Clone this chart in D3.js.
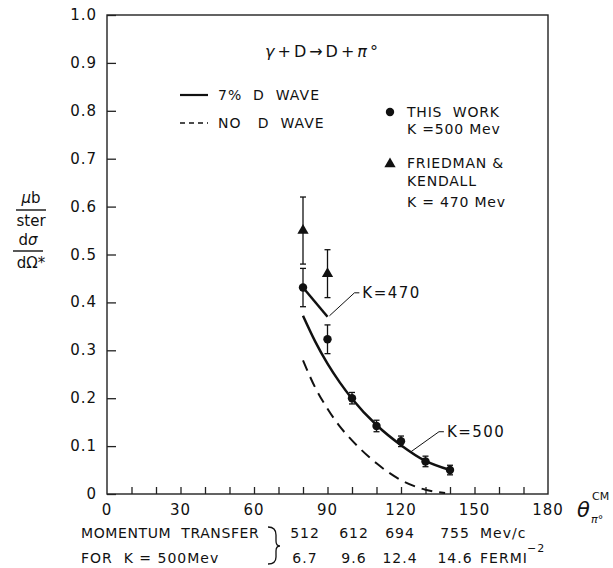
<!DOCTYPE html>
<html>
<head>
<meta charset="utf-8">
<script src="https://cdn.jsdelivr.net/npm/d3@7"></script>
<style>
  body { margin: 0; background: #fff; }
  text { font-family: "DejaVu Sans", sans-serif; fill: #111; white-space: pre; }
</style>
</head>
<body>
<script>

// measured points, this work (K = 500 Mev)
var thetaWork = [80, 90, 100, 110, 120, 130, 140],
    sigmaWork = [0.431, 0.323, 0.200, 0.142, 0.110, 0.068, 0.050],
    errWork   = [0.040, 0.030, 0.012, 0.012, 0.011, 0.011, 0.010];

// Friedman & Kendall (K = 470 Mev)
var thetaFK = [80, 90],
    sigmaFK = [0.55, 0.46],
    errFK   = [0.07, 0.05];

// theory curves
var thetaD = [80, 85, 90, 95, 100, 110, 120, 130, 140],
    sigmaD = [0.372, 0.318, 0.272, 0.233, 0.199, 0.144, 0.102, 0.069, 0.050];

var theta470 = [80, 90],
    sigma470 = [0.431, 0.370];

var thetaNoD = [80, 85, 90, 95, 100, 110, 120, 130, 138],
    sigmaNoD = [0.279, 0.222, 0.178, 0.141, 0.112, 0.064, 0.029, 0.009, 0.002];

var xTicks = [0, 30, 60, 90, 120, 150, 180],
    yTicks = [0, 0.1, 0.2, 0.3, 0.4, 0.5, 0.6, 0.7, 0.8, 0.9, 1.0],
    yTickLabels = ["0", "0.1", "0.2", "0.3", "0.4", "0.5", "0.6", "0.7", "0.8", "0.9", "1.0"];

var momentum = ["512", "612", "694", "755"],
    fermi    = ["6.7", "9.6", "12.4", "14.6"];


var svg = d3.select("body").append("svg")
        .attr("width", 613)
        .attr("height", 568),

    x = d3.scaleLinear().domain([0, 180]).range([107, 548]),
    y = d3.scaleLinear().domain([0, 1]).range([494, 15]);


// frame
svg.append("rect")
    .attr("x", x(0)).attr("y", y(1))
    .attr("width", x(180) - x(0)).attr("height", y(0) - y(1))
    .attr("fill", "none").attr("stroke", "#222").attr("stroke-width", 1.4);

// y ticks, pointing inside
svg.append("g")
    .attr("transform", "translate(" + x(0) + ",0)")
    .call(d3.axisRight(y).tickValues(yTicks).tickSize(9).tickFormat(""))
    .call(function(g) { g.select(".domain").remove(); })
    .selectAll("line").attr("stroke", "#222").attr("stroke-width", 1.3);

svg.append("g").selectAll("text")
    .data(yTicks)
    .enter().append("text")
        .attr("x", 97)
        .attr("y", function(d) { return y(d) + 5; })
        .attr("text-anchor", "end")
        .attr("font-size", 15)
        .attr("letter-spacing", 1)
        .text(function(d, i) { return yTickLabels[i]; });

// x ticks every 10 deg, pointing up
svg.append("g")
    .attr("transform", "translate(0," + y(0) + ")")
    .call(d3.axisTop(x).tickValues(d3.range(10, 180, 10)).tickSize(7).tickFormat(""))
    .call(function(g) { g.select(".domain").remove(); })
    .selectAll("line").attr("stroke", "#222").attr("stroke-width", 1.3);

svg.append("g").selectAll("text")
    .data(xTicks)
    .enter().append("text")
        .attr("x", function(d) { return x(d); })
        .attr("y", 515)
        .attr("text-anchor", "middle")
        .attr("font-size", 15)
        .attr("letter-spacing", 1)
        .text(function(d) { return d; });


// curves
var line = d3.line()
    .x(function(d) { return x(d[0]); })
    .y(function(d) { return y(d[1]); })
    .curve(d3.curveMonotoneX);

svg.append("path")
    .attr("d", line(d3.zip(thetaD, sigmaD)))
    .attr("fill", "none").attr("stroke", "#111").attr("stroke-width", 2.5);

svg.append("path")
    .attr("d", d3.line().x(function(d) { return x(d[0]); }).y(function(d) { return y(d[1]); })(d3.zip(theta470, sigma470)))
    .attr("fill", "none").attr("stroke", "#111").attr("stroke-width", 2.5);

svg.append("path")
    .attr("d", line(d3.zip(thetaNoD, sigmaNoD)))
    .attr("fill", "none").attr("stroke", "#111").attr("stroke-width", 2)
    .attr("stroke-dasharray", "11,7");


// error bars
function errorBars(th, sg, er) {
    var g = svg.append("g").attr("stroke", "#111").attr("stroke-width", 1.3);
    th.forEach(function(t, i) {
        var cx = x(t), top = y(sg[i] + er[i]), bot = y(sg[i] - er[i]);
        g.append("line").attr("x1", cx).attr("x2", cx).attr("y1", top).attr("y2", bot);
        g.append("line").attr("x1", cx - 3).attr("x2", cx + 3).attr("y1", top).attr("y2", top);
        g.append("line").attr("x1", cx - 3).attr("x2", cx + 3).attr("y1", bot).attr("y2", bot);
    });
}
errorBars(thetaWork, sigmaWork, errWork);
errorBars(thetaFK, sigmaFK, errFK);

svg.append("g").selectAll("circle")
    .data(d3.zip(thetaWork, sigmaWork))
    .enter().append("circle")
        .attr("cx", function(d) { return x(d[0]); })
        .attr("cy", function(d) { return y(d[1]); })
        .attr("r", 4.2)
        .attr("fill", "#111");

var tri = d3.symbol().type(d3.symbolTriangle).size(55);
svg.append("g").selectAll("path")
    .data(d3.zip(thetaFK, sigmaFK))
    .enter().append("path")
        .attr("d", tri)
        .attr("transform", function(d) { return "translate(" + x(d[0]) + "," + y(d[1]) + ")"; })
        .attr("fill", "#111");


// curve labels with leaders
function leader(pts, label) {
    svg.append("path")
        .attr("d", d3.line().x(function(d) { return x(d[0]); }).y(function(d) { return y(d[1]); })(pts))
        .attr("fill", "none").attr("stroke", "#111").attr("stroke-width", 1);
    var last = pts[pts.length - 1];
    svg.append("text")
        .attr("x", x(last[0]) + 3)
        .attr("y", y(last[1]) + 5)
        .attr("font-size", 15)
        .attr("letter-spacing", 1.5)
        .text(label);
}
leader([[90.8, 0.372], [101, 0.42], [103, 0.42]], "K=470");
leader([[124, 0.088], [135.5, 0.13], [137.5, 0.13]], "K=500");


// reaction title
svg.append("text")
    .attr("x", 265).attr("y", 57)
    .attr("font-size", 16)
    .attr("letter-spacing", 3)
    .html('<tspan font-style="italic">γ</tspan>+D→D+<tspan font-style="italic">π</tspan>°');

// line legend
var legend = svg.append("g").attr("font-size", 14).attr("letter-spacing", 1);
legend.append("line").attr("x1", 180).attr("x2", 208).attr("y1", 95).attr("y2", 95)
    .attr("stroke", "#111").attr("stroke-width", 2.2);
legend.append("text").attr("x", 218).attr("y", 100).text("7%  D  WAVE");
legend.append("line").attr("x1", 180).attr("x2", 208).attr("y1", 123).attr("y2", 123)
    .attr("stroke", "#111").attr("stroke-width", 1.4).attr("stroke-dasharray", "5,4");
legend.append("text").attr("x", 218).attr("y", 128).text("NO   D  WAVE");

// marker legend
var mleg = svg.append("g").attr("font-size", 14).attr("letter-spacing", 0.8);
mleg.append("circle").attr("cx", 390).attr("cy", 112).attr("r", 4.2).attr("fill", "#111");
mleg.append("text").attr("x", 407).attr("y", 117).text("THIS  WORK");
mleg.append("text").attr("x", 407).attr("y", 134).text("K =500 Mev");
mleg.append("path").attr("d", tri).attr("transform", "translate(390,164)").attr("fill", "#111");
mleg.append("text").attr("x", 407).attr("y", 168).text("FRIEDMAN &");
mleg.append("text").attr("x", 407).attr("y", 186).text("KENDALL");
mleg.append("text").attr("x", 407).attr("y", 207).text("K = 470 Mev");


// y axis label
var ylab = svg.append("g").attr("font-size", 15).attr("text-anchor", "middle");
ylab.append("text").attr("x", 31).attr("y", 203).html('<tspan font-style="italic">μ</tspan>b');
ylab.append("line").attr("x1", 16).attr("x2", 46).attr("y1", 210).attr("y2", 210).attr("stroke", "#111").attr("stroke-width", 1.4);
ylab.append("text").attr("x", 31).attr("y", 226).text("ster");
ylab.append("text").attr("x", 28).attr("y", 245).html('d<tspan font-style="italic">σ</tspan>');
ylab.append("line").attr("x1", 13).attr("x2", 43).attr("y1", 251).attr("y2", 251).attr("stroke", "#111").attr("stroke-width", 1.4);
ylab.append("text").attr("x", 31).attr("y", 268).text("dΩ*");

// x axis label
svg.append("text").attr("x", 577).attr("y", 517).attr("font-size", 21).attr("font-style", "italic").text("θ");
svg.append("text").attr("x", 592).attr("y", 500).attr("font-size", 11).text("CM");
svg.append("text").attr("x", 591).attr("y", 523).attr("font-size", 11).html('<tspan font-style="italic">π</tspan>°');


// momentum transfer table
var tbl = svg.append("g").attr("font-size", 14).attr("letter-spacing", 1),
    cols = d3.scaleOrdinal().domain(momentum.map(function(d, i) { return i; })).range([305, 354, 400, 455]);

tbl.append("text").attr("x", 81).attr("y", 538).attr("letter-spacing", 0.6).text("MOMENTUM  TRANSFER");
tbl.append("text").attr("x", 81).attr("y", 563).text("FOR  K = 500Mev");
tbl.append("path")
    .attr("d", "M268,527 Q276,527 276,535 L276,541 Q276,546 280,546 Q276,546 276,551 L276,557 Q276,564 268,564")
    .attr("fill", "none").attr("stroke", "#111").attr("stroke-width", 1.3);

tbl.selectAll(".mom").data(momentum).enter().append("text")
    .attr("x", function(d, i) { return cols(i); }).attr("y", 538)
    .attr("text-anchor", "middle").text(function(d) { return d; });
tbl.selectAll(".fer").data(fermi).enter().append("text")
    .attr("x", function(d, i) { return cols(i); }).attr("y", 563)
    .attr("text-anchor", "middle").text(function(d) { return d; });

tbl.append("text").attr("x", 480).attr("y", 538).text("Mev/c");
tbl.append("text").attr("x", 480).attr("y", 563).text("FERMI");
tbl.append("text").attr("x", 527).attr("y", 552).attr("font-size", 11).text("−2");

</script>
</body>
</html>
